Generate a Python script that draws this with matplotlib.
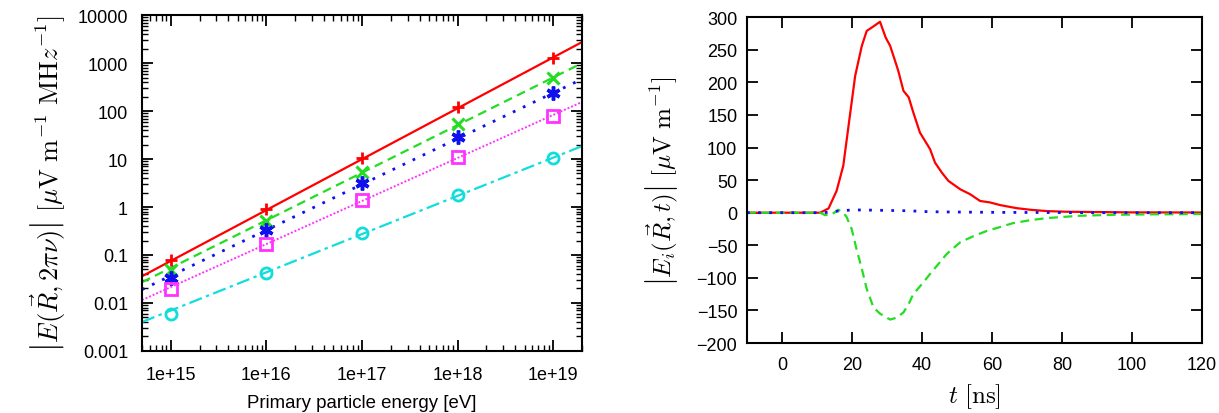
import numpy as np
import matplotlib
matplotlib.use('Agg')
import matplotlib.pyplot as plt
from matplotlib.ticker import LogLocator, NullFormatter

plt.rcParams['font.family'] = ['Liberation Sans', 'DejaVu Sans']
plt.rcParams['mathtext.fontset'] = 'cm'

# ---- left panel: spectral field vs primary energy ----
energy = [1e15, 1e16, 1e17, 1e18, 1e19]
red_pts = [0.079, 0.91, 10.5, 121, 1270]
green_pts = [0.049, 0.51, 5.4, 54, 490]
blue_pts = [0.033, 0.33, 3.16, 28.7, 237]
magenta_pts = [0.0195, 0.17, 1.4, 11, 79]
cyan_pts = [0.0059, 0.042, 0.288, 1.78, 10.5]

# fit lines (end points at the axis edges)
fit_energy = [5e14, 2e19]
red_fit = [0.036, 2750]
green_fit = [0.027, 1000]
blue_fit = [0.019, 465]
magenta_fit = [0.0115, 155]
cyan_fit = [0.004, 18.6]

# ---- right panel: time-domain pulse ----
t_red = [-10, 0, 10.9, 13.3, 15.6, 17.5, 19.0, 20.9, 22.8, 24.2, 25.6, 28.0, 29.6,
         30.9, 32.3, 33.2, 34.7, 36.2, 37.5, 39.4, 42.3, 43.7, 45.6, 47.5, 50.9,
         53.7, 56.6, 59.4, 62.3, 67.0, 71.0, 75.6, 81.0, 90.0, 100.0, 120.0]
e_red = [0, 0, 0, 6.6, 33.6, 72, 133, 210, 256, 279, 284, 293, 269,
         256, 233, 218, 187, 177, 154, 123, 97.5, 77, 62, 49, 36,
         28.5, 18, 15.8, 11.7, 7, 4.5, 2.5, 1.5, 1.0, 0.5, 0.3]

t_green = [-10, 0, 10.9, 12.3, 14.2, 16.1, 17.5, 18.5, 19.9, 21.3, 22.8, 24.2, 26.1,
           28.0, 30.9, 32.8, 34.7, 36.2, 37.5, 39.9, 42.3, 45.1, 47.1, 51.0,
           54.7, 58.5, 62.3, 66.0, 71.0, 75.6, 85.0, 94.6, 105.0, 120.0]
e_green = [0, 0, 0, -3.7, -2.6, 4.5, 0.4, -7, -25, -56, -86, -117, -145,
           -155, -164, -161, -153, -140, -125, -110, -94, -76, -63, -45,
           -36, -28, -22, -16, -11.4, -8.3, -4.7, -3.2, -2.5, -2]

t_blue = [-10, 0, 10.9, 13.0, 16.6, 20.4, 25.0, 30.0, 36.0, 42.0, 50.0, 62.0, 80.0, 100.0, 120.0]
e_blue = [0, 0, 0, 0.5, 3, 4.3, 4, 3.5, 3, 1.5, 1.0, 0.5, 0.2, 0, 0]

fig = plt.figure(figsize=(12.19, 4.14), dpi=100)

ax1 = fig.add_axes([0.1165, 0.150, 0.361, 0.811])
ax2 = fig.add_axes([0.6128, 0.169, 0.3733, 0.787])

lw = 1.6
ax1.plot(fit_energy, red_fit, '-', color='#ff0000', lw=lw)
ax1.plot(fit_energy, green_fit, '--', color='#22dd22', lw=lw, dashes=(4, 2.5))
ax1.plot(fit_energy, blue_fit, ':', color='#1010ee', lw=lw + 0.4, dashes=(1, 3))
ax1.plot(fit_energy, magenta_fit, ':', color='#ff33ff', lw=lw - 0.2, dashes=(1, 1))
ax1.plot(fit_energy, cyan_fit, '-.', color='#11dddd', lw=lw, dashes=(6, 2, 1.5, 2))

ax1.plot(energy, red_pts, '+', color='#ff0000', ms=9, mew=2, ls='none')
ax1.plot(energy, green_pts, 'x', color='#22dd22', ms=9, mew=2.2, ls='none')
ax1.plot(energy, blue_pts, marker=(6, 2, 0), color='#1010ee', ms=10, mew=2.5, ls='none')
ax1.plot(energy, magenta_pts, 's', color='#ff33ff', ms=9, mew=2, mfc='none', ls='none')
ax1.plot(energy, cyan_pts, 'o', color='#11dddd', ms=8, mew=2, mfc='none', ls='none')

ax1.set_xscale('log')
ax1.set_yscale('log')
ax1.set_xlim(5e14, 2e19)
ax1.set_ylim(0.001, 10000)
ax1.set_xticks(energy)
ax1.set_xticklabels(['1e+15', '1e+16', '1e+17', '1e+18', '1e+19'])
ax1.set_yticks([0.001, 0.01, 0.1, 1, 10, 100, 1000, 10000])
ax1.set_yticklabels(['0.001', '0.01', '0.1', '1', '10', '100', '1000', '10000'])
ax1.xaxis.set_minor_locator(LogLocator(base=10, subs=np.arange(2, 10)))
ax1.yaxis.set_minor_locator(LogLocator(base=10, subs=np.arange(2, 10)))
ax1.xaxis.set_minor_formatter(NullFormatter())
ax1.yaxis.set_minor_formatter(NullFormatter())
ax1.set_xlabel('Primary particle energy [eV]', fontsize=13.4, labelpad=8)
ax1.set_ylabel(r'$\left|E(\vec{R},2\pi\nu)\right|\ [\mu\mathrm{V\ m^{-1}\ MH}z^{-1}]$',
               fontsize=19, labelpad=8)

ax2.plot(t_red, e_red, '-', color='#ff0000', lw=lw)
ax2.plot(t_green, e_green, '--', color='#22dd22', lw=lw, dashes=(4, 2.5))
ax2.plot(t_blue, e_blue, ':', color='#1010ee', lw=lw + 0.4, dashes=(1, 3))
ax2.set_xlim(-10, 120)
ax2.set_ylim(-200, 300)
ax2.set_xticks(np.arange(0, 121, 20))
ax2.set_yticks(np.arange(-200, 301, 50))
ax2.set_xlabel(r'$t\ [\mathrm{ns}]$', fontsize=18, labelpad=6)
ax2.set_ylabel(r'$\left|E_i(\vec{R},t)\right|\ [\mu\mathrm{V\ m^{-1}}]$', fontsize=18, labelpad=12)

for ax in (ax1, ax2):
    for s in ax.spines.values():
        s.set_linewidth(1.5)
    ax.tick_params(which='major', direction='in', length=8, width=1.3,
                   top=True, right=True, labelsize=13)
    ax.tick_params(which='minor', direction='in', length=4, width=1.0,
                   top=True, right=True)

ax1.tick_params(axis='y', which='major', pad=10)
ax1.tick_params(axis='x', which='major', pad=11)
ax2.tick_params(axis='y', which='major', pad=7)
ax2.tick_params(axis='x', which='major', pad=9)

fig.savefig('out.png', dpi=100)
